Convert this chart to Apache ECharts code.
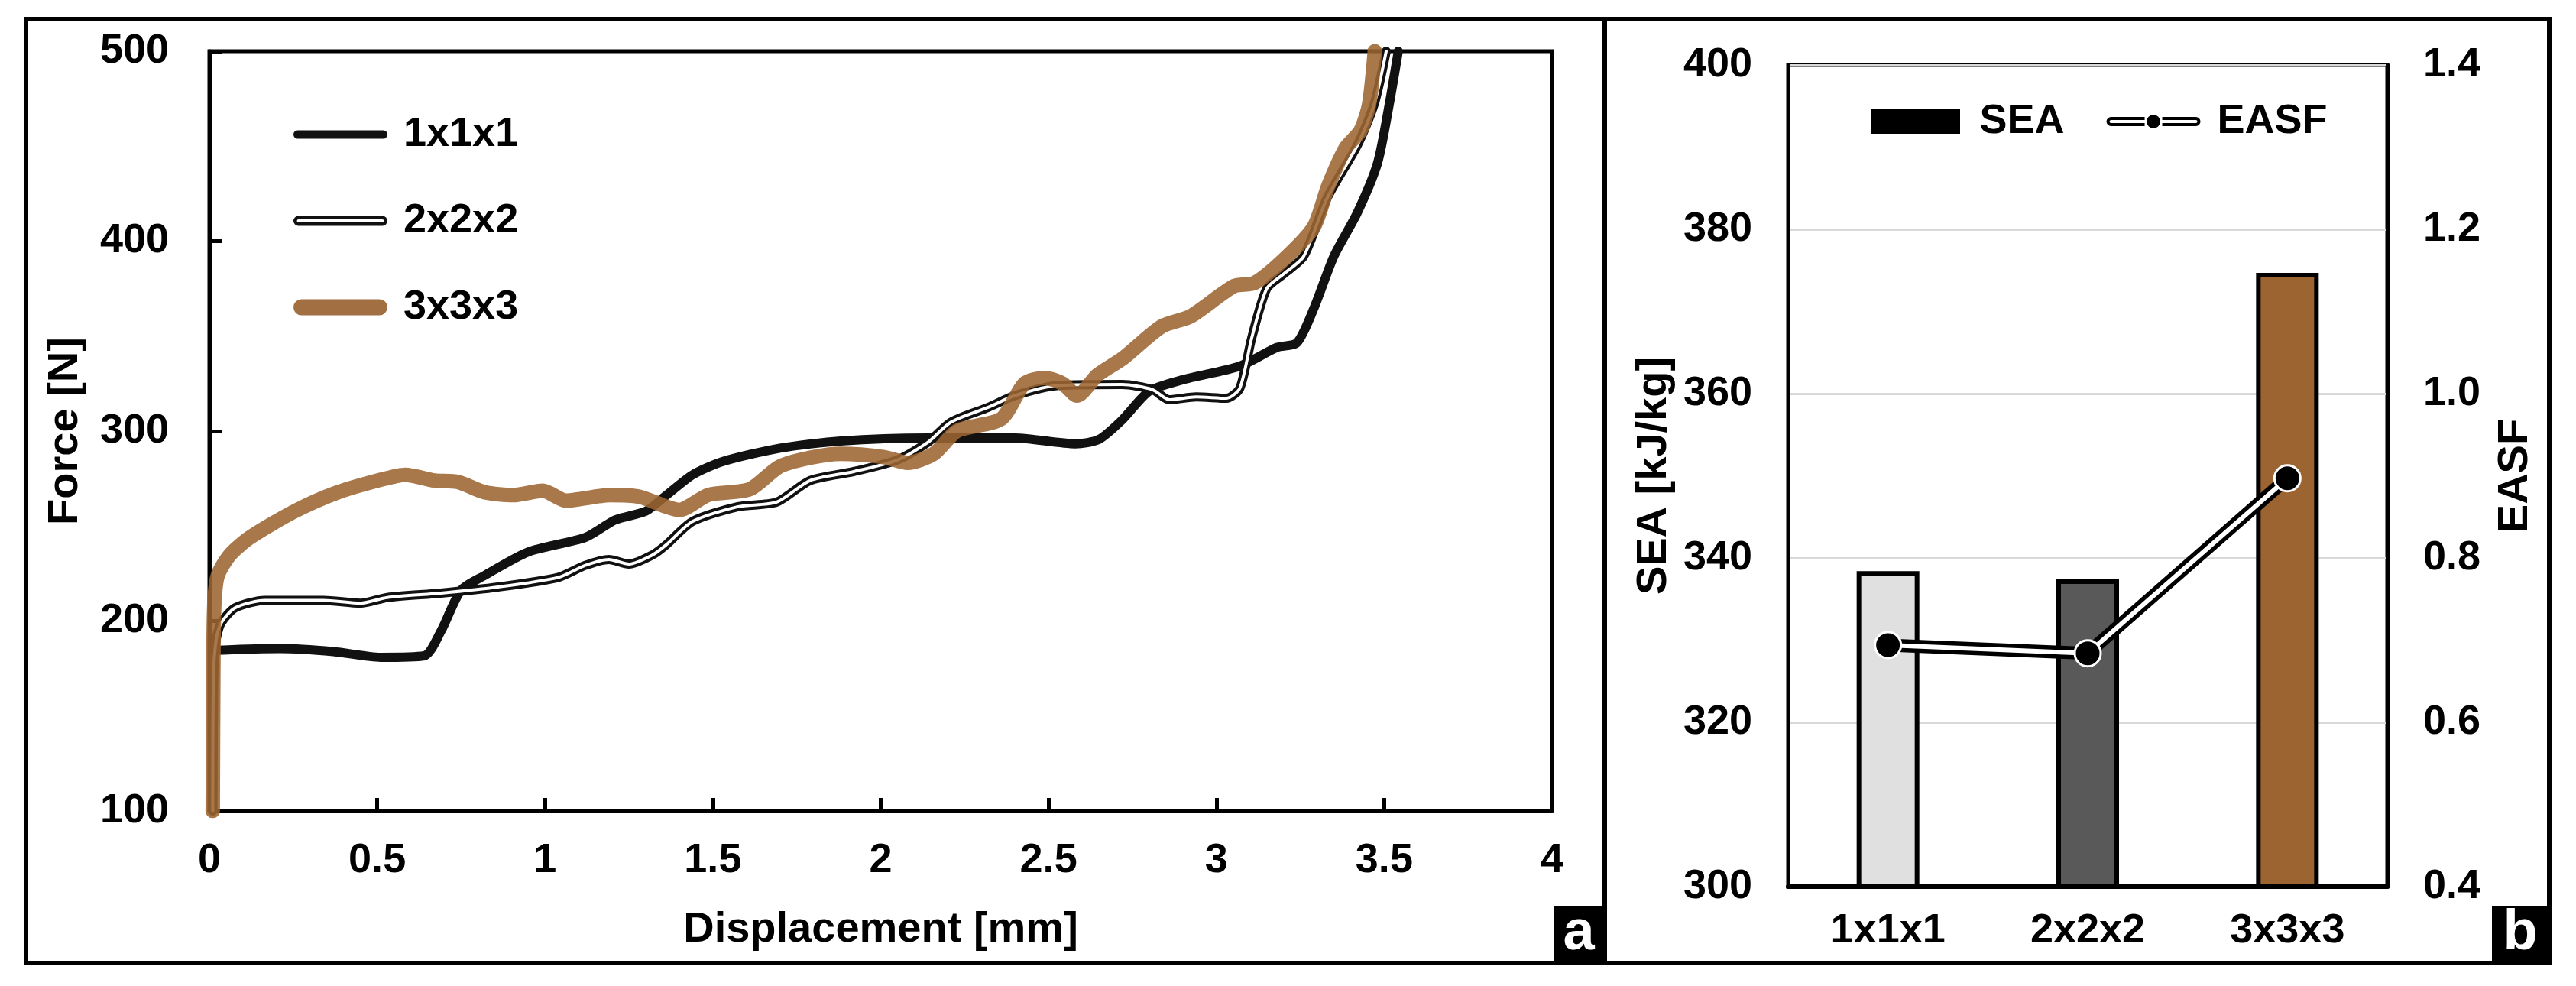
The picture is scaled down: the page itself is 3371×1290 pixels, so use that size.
<!DOCTYPE html>
<html>
<head>
<meta charset="utf-8">
<title>Force-displacement / SEA and EASF</title>
<script src="https://cdn.jsdelivr.net/npm/echarts@6.0.0/dist/echarts.min.js"></script>
<style>
  html, body { margin: 0; padding: 0; background: #fff; }
  #chart { width: 3371px; height: 1290px; }
</style>
</head>
<body>
<div id="chart"></div>
<script>
  // panel a : [displacement (mm), force (N)]
  var curve1x1x1 = [
    [0.01, 100], [0.012, 150], [0.015, 184], [0.043, 184.7], [0.21, 185.5], [0.37, 183.9],
    [0.51, 180.9], [0.64, 181.7], [0.69, 194.7], [0.75, 216.3], [0.82, 224], [0.95, 236.4],
    [1.12, 244], [1.21, 253.3], [1.30, 257.8], [1.36, 266], [1.44, 277], [1.53, 284],
    [1.70, 291], [1.88, 294.8], [2.14, 296.4], [2.40, 296.4], [2.58, 293.3], [2.65, 295.6],
    [2.72, 306], [2.80, 321], [2.90, 327], [3.07, 334.2], [3.18, 344], [3.24, 346.5],
    [3.29, 364.4], [3.35, 392], [3.42, 415], [3.48, 441], [3.515, 472], [3.542, 500]
  ];
  var curve2x2x2 = [
    [0.01, 100], [0.012, 170], [0.02, 190], [0.035, 199], [0.077, 207], [0.165, 210.9],
    [0.34, 210.9], [0.45, 209.4], [0.53, 212.4], [0.69, 214.7], [0.86, 217.9], [1.04, 223],
    [1.12, 229.3], [1.19, 232.4], [1.25, 230], [1.32, 234.8], [1.36, 240], [1.44, 252.5],
    [1.575, 260.2], [1.69, 262.6], [1.79, 274], [1.92, 278.7], [2.05, 284.8], [2.14, 294],
    [2.21, 304.8], [2.32, 312.5], [2.40, 318.7], [2.53, 324], [2.72, 324.5], [2.81, 321.8],
    [2.86, 316.5], [2.94, 318], [3.03, 317.3], [3.07, 322.6], [3.105, 348.8], [3.15, 375],
    [3.20, 382.7], [3.26, 392], [3.33, 422.7], [3.42, 450.5], [3.47, 472], [3.506, 500]
  ];
  var curve3x3x3 = [
    [0.01, 100], [0.012, 180], [0.015, 210], [0.025, 224], [0.061, 234.8], [0.121, 244],
    [0.253, 257.7], [0.383, 267.8], [0.515, 274.6], [0.584, 277], [0.67, 274], [0.74, 273.2],
    [0.82, 267.8], [0.906, 266.3], [0.993, 268.6], [1.063, 263.4], [1.193, 266.3], [1.28, 265.5],
    [1.357, 260.5], [1.40, 258.5], [1.487, 266.4], [1.61, 269.4], [1.705, 281.9], [1.88, 288],
    [2.01, 286.3], [2.08, 283.3], [2.158, 288], [2.228, 300.2], [2.359, 306.4], [2.428, 325],
    [2.489, 328], [2.542, 325], [2.585, 318.7], [2.646, 329.5], [2.723, 338.5], [2.836, 355],
    [2.923, 360.4], [3.053, 376.4], [3.114, 378], [3.202, 390.5], [3.29, 407.4], [3.333, 428.9],
    [3.385, 449], [3.429, 458], [3.455, 472], [3.472, 500]
  ];

  // panel b
  var cellTypes = ['1x1x1', '2x2x2', '3x3x3'];
  var seaValues = [338.4, 337.4, 374.7];
  var easfValues = [0.694, 0.684, 0.897];

  var barColors = ['#e0e0e0', '#595959', '#9c6431'];
  var FONT = 'Liberation Sans, Arial, sans-serif';

  var tickText = {fontFamily: FONT, fontWeight: 'bold', fontSize: 54, color: '#000'};
  var titleText = {fontFamily: FONT, fontWeight: 'bold', fontSize: 56, color: '#000'};

  // legend icons (drawn to scale, keepAspect centres them)
  var iconSolid = 'path://M5.5,0H117.5A5.5,5.5,0,0,1,117.5,11H5.5A5.5,5.5,0,0,1,5.5,0Z';
  var iconDouble = 'path://M6.5,0H116.5A6.5,6.5,0,0,1,116.5,13H6.5A6.5,6.5,0,0,1,6.5,0Z' +
    'M6.5,4.5A2,2,0,0,0,6.5,8.5H116.5A2,2,0,0,0,116.5,4.5Z';
  var iconThick = 'path://M10.5,0H112.5A10.5,10.5,0,0,1,112.5,21H10.5A10.5,10.5,0,0,1,10.5,0Z';
  var iconBar = 'path://M0,0H116V32H0Z';
  var iconEasf = 'path://M6,4H50V8H6A2,2,0,0,0,6,12H50V16H6A6,6,0,0,1,6,4Z' +
    'M52.5,10A9,9,0,1,1,70.5,10A9,9,0,1,1,52.5,10Z' +
    'M73,4H117A6,6,0,0,1,117,16H73V12H117A2,2,0,0,0,117,8H73Z';

  var myChart = echarts.init(document.getElementById('chart'));

  var option = {
    backgroundColor: '#fff',
    animation: false,
    grid: [
      {left: 274, right: 1340, top: 67, bottom: 229, show: true, borderColor: '#000', borderWidth: 5},
      {left: 2340, right: 247, top: 85, bottom: 130, show: true, borderColor: '#000', borderWidth: 5}
    ],
    legend: [
      {
        orient: 'vertical', left: 379, top: 144,
        itemWidth: 123, itemHeight: 21, itemGap: 59,
        selectedMode: false,
        textStyle: {fontFamily: FONT, fontWeight: 'bold', fontSize: 54, color: '#000', lineHeight: 54, padding: [0, 0, 0, 16]},
        data: [
          {name: '1x1x1', icon: iconSolid, itemStyle: {color: '#111', borderWidth: 0}},
          {name: '2x2x2', icon: iconDouble, itemStyle: {color: '#111', borderWidth: 0}},
          {name: '3x3x3', icon: iconThick, itemStyle: {color: '#a26f42', borderWidth: 0}}
        ]
      },
      {
        orient: 'horizontal', left: 2444, top: 127,
        itemWidth: 123, itemHeight: 32, itemGap: 55,
        selectedMode: false,
        textStyle: {fontFamily: FONT, fontWeight: 'bold', fontSize: 54, color: '#000', lineHeight: 54, padding: [0, 0, 0, 17]},
        data: [
          {name: 'SEA', icon: iconBar, itemStyle: {color: '#000', borderWidth: 0}},
          {name: 'EASF', icon: iconEasf, itemStyle: {color: '#000', borderWidth: 0}}
        ]
      }
    ],
    xAxis: [
      {
        gridIndex: 0, type: 'value', min: 0, max: 4, interval: 0.5,
        name: 'Displacement [mm]', nameLocation: 'middle', nameGap: 128, nameTextStyle: titleText,
        axisLine: {show: true, lineStyle: {color: '#000', width: 5}},
        axisTick: {show: true, inside: true, length: 17, lineStyle: {color: '#000', width: 5}},
        axisLabel: Object.assign({margin: 38}, tickText),
        splitLine: {show: false}
      },
      {
        gridIndex: 1, type: 'category', data: cellTypes,
        axisLine: {show: true, lineStyle: {color: '#000', width: 6}},
        axisTick: {show: false},
        axisLabel: Object.assign({margin: 31}, tickText),
        splitLine: {show: false}
      }
    ],
    yAxis: [
      {
        gridIndex: 0, type: 'value', min: 100, max: 500, interval: 100,
        name: 'Force [N]', nameLocation: 'middle', nameGap: 160, nameTextStyle: titleText,
        axisLine: {show: true, lineStyle: {color: '#000', width: 5}},
        axisTick: {show: true, inside: true, length: 17, lineStyle: {color: '#000', width: 5}},
        axisLabel: Object.assign({margin: 53}, tickText),
        splitLine: {show: false}
      },
      {
        gridIndex: 1, type: 'value', min: 300, max: 400, interval: 20,
        name: 'SEA [kJ/kg]', nameLocation: 'middle', nameGap: 147, nameTextStyle: titleText,
        axisLine: {show: true, lineStyle: {color: '#000', width: 5}},
        axisTick: {show: false},
        axisLabel: Object.assign({margin: 47}, tickText),
        splitLine: {show: true, lineStyle: {color: '#d9d9d9', width: 3}}
      },
      {
        gridIndex: 1, type: 'value', position: 'right', min: 0.4, max: 1.4, interval: 0.2,
        name: 'EASF', nameLocation: 'middle', nameGap: 140, nameTextStyle: titleText,
        axisLine: {show: true, lineStyle: {color: '#000', width: 5}},
        axisTick: {show: false},
        axisLabel: Object.assign({
          margin: 47,
          formatter: function (v) { return v.toFixed(1); }
        }, tickText),
        splitLine: {show: false}
      }
    ],
    series: [
      {
        name: '1x1x1', type: 'line', xAxisIndex: 0, yAxisIndex: 0,
        data: curve1x1x1, showSymbol: false, smooth: 0.25,
        itemStyle: {color: '#111'},
        lineStyle: {color: '#111', width: 12, join: 'round', cap: 'round'}
      },
      // double line: black body with a white core
      {
        name: '2x2x2', type: 'line', xAxisIndex: 0, yAxisIndex: 0,
        data: curve2x2x2, showSymbol: false, smooth: 0.25,
        itemStyle: {color: '#111'},
        lineStyle: {color: '#111', width: 12, join: 'round', cap: 'round'}
      },
      {
        name: '2x2x2', type: 'line', xAxisIndex: 0, yAxisIndex: 0,
        data: curve2x2x2, showSymbol: false, smooth: 0.25,
        itemStyle: {color: '#fff'},
        lineStyle: {color: '#fff', width: 4, join: 'round', cap: 'round'}
      },
      {
        name: '3x3x3', type: 'line', xAxisIndex: 0, yAxisIndex: 0,
        data: curve3x3x3, showSymbol: false, smooth: 0.25,
        itemStyle: {color: '#9c6431'},
        lineStyle: {color: '#9c6431', width: 19, opacity: 0.88, join: 'round', cap: 'round'}
      },
      {
        name: 'SEA', type: 'bar', xAxisIndex: 1, yAxisIndex: 1,
        barWidth: 82,
        data: seaValues.map(function (v, i) {
          return {value: v, itemStyle: {color: barColors[i]}};
        }),
        itemStyle: {color: '#000', borderColor: '#000', borderWidth: 6}
      },
      {
        name: 'EASF', type: 'line', xAxisIndex: 1, yAxisIndex: 2,
        data: easfValues, showSymbol: false, z: 3,
        itemStyle: {color: '#000'},
        lineStyle: {color: '#000', width: 17}
      },
      {
        name: 'EASF', type: 'line', xAxisIndex: 1, yAxisIndex: 2,
        data: easfValues, z: 4,
        symbol: 'circle', symbolSize: 34, showSymbol: true,
        itemStyle: {color: '#000', borderColor: '#fff', borderWidth: 3},
        lineStyle: {color: '#fff', width: 6}
      }
    ],
    graphic: [
      // outer frame and panel divider
      {type: 'rect', shape: {x: 34, y: 25, width: 3302, height: 1235}, style: {fill: 'none', stroke: '#000', lineWidth: 6}, z: 10},
      {type: 'line', shape: {x1: 2100, y1: 25, x2: 2100, y2: 1260}, style: {stroke: '#000', lineWidth: 6}, z: 10},
      // panel tags
      {type: 'rect', shape: {x: 2033, y: 1185, width: 67, height: 75}, style: {fill: '#000'}, z: 10},
      {type: 'text', x: 2066, y: 1222, z: 11, style: {text: 'a', fill: '#fff', fontFamily: FONT, fontWeight: 'bold', fontSize: 74, align: 'center', verticalAlign: 'middle', textAlign: 'center', textVerticalAlign: 'middle'}},
      {type: 'rect', shape: {x: 3261, y: 1185, width: 75, height: 75}, style: {fill: '#000'}, z: 10},
      {type: 'text', x: 3298, y: 1222, z: 11, style: {text: 'b', fill: '#fff', fontFamily: FONT, fontWeight: 'bold', fontSize: 74, align: 'center', verticalAlign: 'middle', textAlign: 'center', textVerticalAlign: 'middle'}}
    ]
  };

  myChart.setOption(option);
</script>
</body>
</html>
